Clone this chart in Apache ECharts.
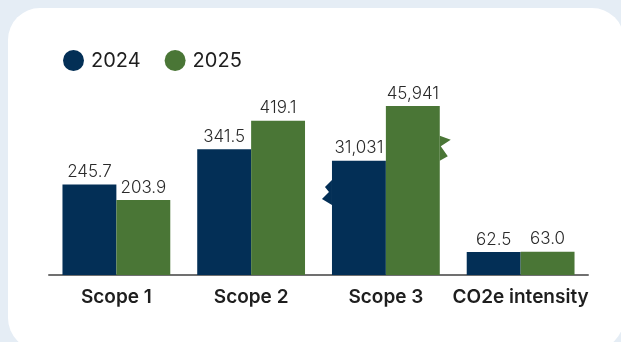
<!DOCTYPE html>
<html>
<head>
<meta charset="utf-8">
<script src="https://cdn.jsdelivr.net/npm/echarts@6/dist/echarts.min.js"></script>
<style>
  html, body { margin: 0; padding: 0; background: #e5edf5; }
  #chart { width: 621px; height: 342px; }
</style>
</head>
<body>
<div id="chart"></div>
<script>
// Emissions by scope, 2024 vs 2025
const categories = ['Scope 1', 'Scope 2', 'Scope 3', 'CO2e intensity'];
const years = ['2024', '2025'];
const values2024 = [245.7, 341.5, 31031, 62.5];
const values2025 = [203.9, 419.1, 45941, 63.0];
// Scope 3 is drawn on a compressed (broken) scale
const axisScale = [1, 1, 100, 1];

const NAVY = '#032f56';
const GREEN = '#4a7636';
const FONT = 'Inter';

function fmt(v) {
  return v >= 1000 ? v.toLocaleString('en-US') : v.toFixed(1);
}

function barData(values) {
  return values.map((v, i) => ({ value: v / axisScale[i], raw: v }));
}

// zig-zag break marks on the outer edge of compressed bars
const breakData = [];
axisScale.forEach((s, i) => {
  if (s !== 1) breakData.push([i, values2024[i] / s, values2025[i] / s]);
});

function renderBreak(params, api) {
  const idx = api.value(0);
  const base = api.coord([idx, 0]);
  const band = api.size([1, 0])[0];
  const barW = band * 0.8 / 2;
  const top24 = api.coord([idx, api.value(1)])[1];
  const top25 = api.coord([idx, api.value(2)])[1];
  const xL = base[0] - barW;
  const xR = base[0] + barW;
  const y24 = base[1] - 0.726 * (base[1] - top24);
  const y25 = base[1] - 0.75 * (base[1] - top25);
  const left = [[0, -12], [-7, -5], [-3, 0], [-10, 7], [0, 13]]
    .map(p => [xL + p[0], y24 + p[1]]);
  const right = [[0, -12.5], [11, -8.5], [1, -2], [8, 8], [0, 12.5]]
    .map(p => [xR + p[0], y25 + p[1]]);
  return {
    type: 'group',
    children: [
      { type: 'polygon', shape: { points: left }, style: { fill: NAVY } },
      { type: 'polygon', shape: { points: right }, style: { fill: GREEN } }
    ]
  };
}

const labelStyle = {
  show: true,
  position: 'top',
  distance: 4,
  fontFamily: FONT,
  fontWeight: 300,
  fontSize: 17,
  color: '#2a2a2a',
  formatter: p => fmt(p.data.raw)
};

const chart = echarts.init(document.getElementById('chart'), null, { renderer: 'canvas' });
chart.setOption({
  backgroundColor: '#e5edf5',
  animation: false,
  graphic: [{
    type: 'rect',
    z: -10,
    shape: { x: 8, y: 8, width: 616, height: 342, r: 32 },
    style: { fill: '#ffffff' }
  }],
  legend: {
    left: 58,
    top: 45,
    icon: 'circle',
    itemWidth: 21,
    itemHeight: 21,
    itemGap: 24,
    data: years,
    textStyle: {
      fontFamily: FONT,
      fontSize: 20,
      fontWeight: 400,
      color: '#1e1e1e',
      padding: [0, 0, 0, 2]
    }
  },
  grid: { left: 49, right: 33, top: 91, bottom: 67 },
  xAxis: {
    type: 'category',
    data: categories,
    axisTick: { show: false },
    axisLine: { lineStyle: { color: '#707070', width: 2 } },
    axisLabel: {
      interval: 0,
      margin: 13,
      fontFamily: FONT,
      fontSize: 19,
      fontWeight: 600,
      color: '#1e1e1e'
    }
  },
  yAxis: {
    type: 'value',
    min: 0,
    max: 500,
    show: false,
    splitLine: { show: false }
  },
  series: [
    {
      name: years[0],
      type: 'bar',
      barGap: '0%',
      barCategoryGap: '20%',
      itemStyle: { color: NAVY },
      label: labelStyle,
      data: barData(values2024)
    },
    {
      name: years[1],
      type: 'bar',
      barGap: '0%',
      barCategoryGap: '20%',
      itemStyle: { color: GREEN },
      label: labelStyle,
      data: barData(values2025)
    },
    {
      type: 'custom',
      renderItem: renderBreak,
      data: breakData,
      z: 5,
      silent: true,
      tooltip: { show: false }
    }
  ]
});
</script>
</body>
</html>
